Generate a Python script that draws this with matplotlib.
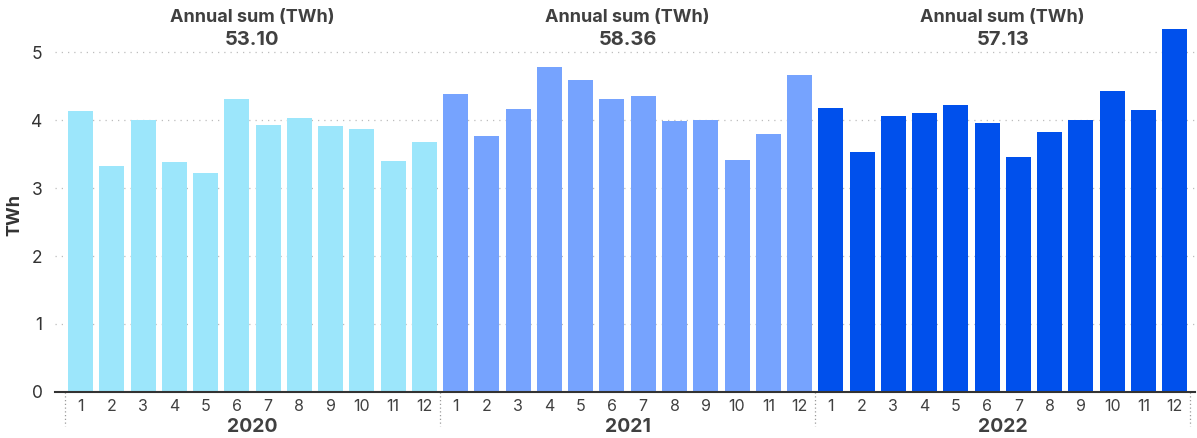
import matplotlib
matplotlib.use("Agg")
import matplotlib.pyplot as plt
from matplotlib.transforms import blended_transform_factory

plt.rcParams['font.family'] = ['Inter', 'DejaVu Sans']

# Monthly energy (TWh) per year
years = ["2020", "2021", "2022"]
months = [str(m) for m in range(1, 13)]
values_2020 = [4.13, 3.33, 4.00, 3.39, 3.22, 4.31, 3.93, 4.03, 3.91, 3.87, 3.40, 3.68]
values_2021 = [4.39, 3.77, 4.17, 4.79, 4.60, 4.31, 4.36, 3.99, 4.00, 3.41, 3.80, 4.66]
values_2022 = [4.18, 3.53, 4.06, 4.11, 4.22, 3.96, 3.46, 3.83, 4.00, 4.43, 4.15, 5.34]
annual_sums = ["53.10", "58.36", "57.13"]
year_colors = ["#9ce6fb", "#76a3fe", "#0050ec"]

series = [values_2020, values_2021, values_2022]

W, H = 1197, 438
fig = plt.figure(figsize=(W / 100, H / 100), dpi=100)
ax = fig.add_axes([55 / W, (H - 391.8) / H, (1195 - 55) / W, (391.8 - 21.8) / H])

text_dark = "#404040"

n = len(months)
for yi, (vals, col) in enumerate(zip(series, year_colors)):
    xs = [yi * n + i for i in range(n)]
    ax.bar(xs, vals, width=0.8, color=col, zorder=2)

ax.set_xlim(-0.816, 35.65)
ax.set_ylim(0, 5.45)

# y axis
ax.set_yticks([0, 1, 2, 3, 4, 5])
ax.set_yticklabels(["0", "1", "2", "3", "4", "5"], fontsize=12.5, color="#333333")
ax.tick_params(axis="y", length=0, pad=9)
ax.grid(axis="y", linestyle=(0, (1, 4)), color="#bdbdbd", linewidth=0.9, zorder=0)
ax.set_ylabel("TWh", fontsize=13, fontweight="bold", color="#333333")
ax.yaxis.set_label_coords((23.5 - 55) / 1140, (391.8 - 215.5) / 370)

# x axis: month ticks
ax.set_xticks(range(3 * n))
ax.set_xticklabels(months * 3, fontsize=11.5, color=text_dark)
ax.tick_params(axis="x", length=0, pad=5)

for side in ["top", "right", "left"]:
    ax.spines[side].set_visible(False)
ax.spines["bottom"].set_color("#333333")
ax.spines["bottom"].set_linewidth(1.5)
ax.spines["bottom"].set_zorder(3)

trans = blended_transform_factory(ax.transData, ax.transAxes)

# year group separators
for sx in [-0.5, 11.5, 23.5, 35.5]:
    ax.plot([sx, sx], [0, -0.093], transform=trans, clip_on=False,
            color="#9a9a9a", linestyle=(0, (1, 2)), linewidth=0.9)

# year labels and annual sums
for yi, (yr, total) in enumerate(zip(years, annual_sums)):
    cx = yi * n + (n - 1) / 2
    ax.text(cx, -(427 - 391.8) / 370, yr, transform=trans, ha="center", va="center",
            fontsize=14, fontweight="bold", color=text_dark)
    ax.text(cx, 1.0 + (21.8 - 17) / 370, "Annual sum (TWh)", transform=trans,
            ha="center", va="center", fontsize=13, fontweight="bold", color=text_dark)
    ax.text(cx, 1.0 - (40 - 21.8) / 370, total, transform=trans,
            ha="center", va="center", fontsize=14.5, fontweight="bold", color=text_dark)

fig.savefig("out.png", dpi=100)
